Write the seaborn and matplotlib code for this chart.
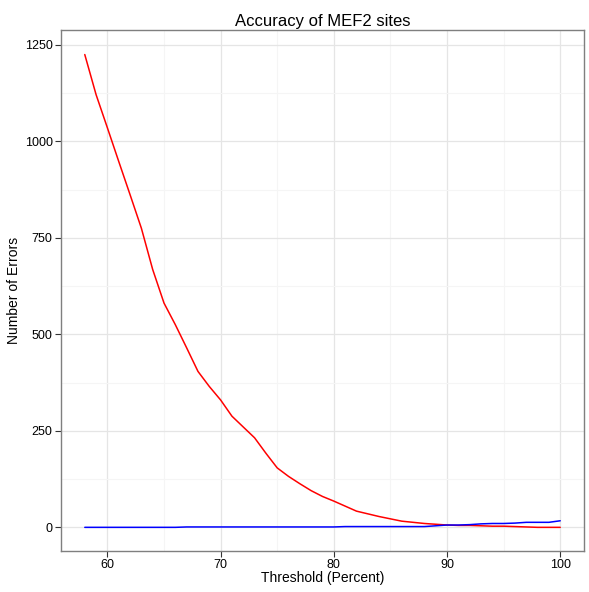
import matplotlib
matplotlib.use("Agg")
import matplotlib.pyplot as plt
import seaborn as sns
import pandas as pd
import numpy as np

threshold = list(range(58, 101))
false_pos = [1225, 1121, 1035, 948, 862, 775, 668, 581, 525, 465, 404, 365, 330, 288,
             260, 232, 192, 154, 132, 113, 95, 80, 68, 55, 42, 35, 28, 22, 16, 13,
             10, 8, 6, 5, 5, 4, 3, 3, 2, 1, 0, 0, 0]
false_neg = [0, 0, 0, 0, 0, 0, 0, 0, 0, 1, 1, 1, 1, 1, 1, 1, 1, 1, 1, 1, 1, 1, 1,
             2, 2, 2, 2, 2, 2, 2, 2, 4, 6, 6, 7, 9, 10, 10, 11, 13, 13, 13, 17]

df = pd.DataFrame({
    "Threshold": threshold * 2,
    "Errors": false_pos + false_neg,
    "Type": ["fp"] * len(threshold) + ["fn"] * len(threshold),
})

sns.set_style("white")
plt.rcParams['font.family'] = ['Liberation Sans', 'DejaVu Sans']
plt.rcParams['text.color'] = 'black'
plt.rcParams['axes.labelcolor'] = 'black'

fig = plt.figure(figsize=(5.89, 5.92), dpi=100)
ax = fig.add_axes([61/589, 1-551/592, 523/589, 521/592])

sns.lineplot(data=df, x="Threshold", y="Errors", hue="Type",
             palette={"fp": "#FF0000", "fn": "#0000FF"}, legend=False,
             linewidth=1.1, ax=ax)

ax.set_xlim(55.9, 102.1)
ax.set_ylim(-61.3, 1288.6)
ax.set_xticks([60, 70, 80, 90, 100])
ax.set_yticks([0, 250, 500, 750, 1000, 1250])
ax.set_xticks([65, 75, 85, 95], minor=True)
ax.set_yticks([125, 375, 625, 875, 1125], minor=True)
ax.grid(True, which="major", color="#E5E5E5", linewidth=0.9)
ax.grid(True, which="minor", color="#F5F5F5", linewidth=0.8)
ax.set_axisbelow(True)
ax.tick_params(which="major", length=4, width=0.8, color="#333333",
               labelsize=9, labelcolor="black", pad=2, bottom=True, left=True)
ax.tick_params(which="minor", length=0)
for s in ax.spines.values():
    s.set_color("#7F7F7F")
    s.set_linewidth(1.0)

ax.set_xlabel("Threshold (Percent)", fontsize=10, labelpad=0, color="black")
ax.set_ylabel("Number of Errors", fontsize=10, labelpad=3, color="black")
ax.set_title("Accuracy of MEF2 sites", fontsize=12, pad=3, color="black")

fig.savefig("out.png", dpi=100)
